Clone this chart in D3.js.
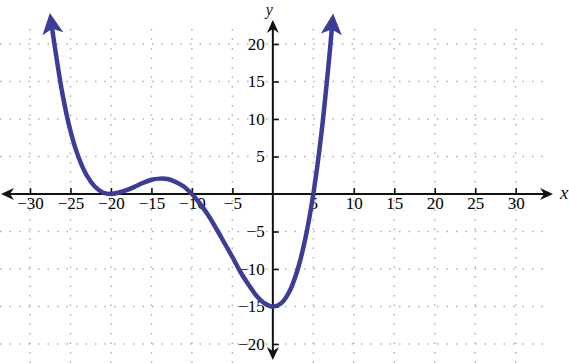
<!DOCTYPE html>
<html>
<head>
<meta charset="utf-8">
<script src="https://cdn.jsdelivr.net/npm/d3@7/dist/d3.min.js"></script>
<style>
  body { margin: 0; background: #fff; }
  svg { display: block; }
</style>
</head>
<body>
<svg width="569" height="363"></svg>
<script>
// values
var xTicks = [-30, -25, -20, -15, -10, -5, 5, 10, 15, 20, 25, 30];
var yTicks = [-20, -15, -10, -5, 5, 10, 15, 20];
var curveX = [-27.3, -26, -25, -24, -23, -22, -21, -20, -19, -18, -17, -16, -15, -14, -13, -12, -11, -10,
              -9, -8, -7, -6, -5, -4, -3, -2, -1, 0, 1, 2, 3, 4, 5, 6, 7, 7.3];
var curveY = [22.3, 13.4, 8.4, 4.9, 2.5, 1.0, 0.2, 0, 0.2, 0.55, 1.0, 1.5, 1.9, 2.05, 2.0, 1.6, 1.0, 0,
              -1.3, -2.8, -4.6, -6.5, -8.4, -10.4, -12.1, -13.6, -14.6, -15, -14.6, -13.1, -10.3, -6.0, 0, 8.1, 18.6, 22.2];

var serif = '"Liberation Serif", serif';
var svg = d3.select('svg');

var x = d3.scaleLinear().domain([-30, 30]).range([30, 515.7]);
var y = d3.scaleLinear().domain([-20, 20]).range([344, 44]);

var fmt = function(d) { return d < 0 ? '\u2212' + Math.abs(d) : '' + d; };

// markers
var defs = svg.append('defs');
defs.append('marker')
    .attr('id', 'curveArrow')
    .attr('markerUnits', 'userSpaceOnUse')
    .attr('orient', 'auto-start-reverse')
    .attr('markerWidth', 40).attr('markerHeight', 40)
    .attr('refX', 0).attr('refY', 0)
    .attr('viewBox', '-20 -20 40 40')
    .append('path')
    .attr('d', 'M14,0 L-7,-10.5 L-2,0 L-7,10.5 Z')
    .attr('fill', '#3d3d99');

defs.append('marker')
    .attr('id', 'axisArrow')
    .attr('markerUnits', 'userSpaceOnUse')
    .attr('orient', 'auto-start-reverse')
    .attr('markerWidth', 30).attr('markerHeight', 30)
    .attr('refX', 0).attr('refY', 0)
    .attr('viewBox', '-15 -15 30 30')
    .append('path')
    .attr('d', 'M2,0 L-11,-6 L-7,0 L-11,6 Z')
    .attr('fill', '#111');

// dotted grid
var grid = svg.append('g').attr('class', 'grid')
    .attr('stroke', '#b0b0b0')
    .attr('stroke-width', 1.5)
    .attr('stroke-dasharray', '1.5,8');

grid.selectAll('.v')
    .data(xTicks)
    .enter()
    .append('line')
    .attr('x1', d => x(d)).attr('x2', d => x(d))
    .attr('y1', y(22)).attr('y2', 363);

grid.selectAll('.h')
    .data(yTicks)
    .enter()
    .append('line')
    .attr('y1', d => y(d)).attr('y2', d => y(d))
    .attr('x1', 0).attr('x2', 543);

// axes
var xAxis = d3.axisBottom(x)
    .tickValues(xTicks)
    .tickFormat(fmt)
    .tickSizeInner(-6)
    .tickSizeOuter(0)
    .tickPadding(3);

var yAxis = d3.axisLeft(y)
    .tickValues(yTicks)
    .tickFormat(fmt)
    .tickSizeInner(-6)
    .tickSizeOuter(0)
    .tickPadding(8);

function styleAxis(g) {
    g.select('.domain').remove();
    g.attr('font-family', null).attr('font-size', null);
    g.selectAll('.tick line').attr('stroke', '#111').attr('stroke-width', 1.6);
    g.selectAll('.tick text')
        .style('font-family', serif)
        .style('font-size', '17px')
        .attr('fill', '#000');
}

svg.append('g')
    .attr('transform', 'translate(0,' + y(0) + ')')
    .call(xAxis)
    .call(styleAxis);

svg.append('g')
    .attr('transform', 'translate(' + x(0) + ',0)')
    .call(yAxis)
    .call(styleAxis);

svg.append('line')
    .attr('x1', 3).attr('x2', 551)
    .attr('y1', y(0)).attr('y2', y(0))
    .attr('stroke', '#111').attr('stroke-width', 2)
    .attr('marker-start', 'url(#axisArrow)')
    .attr('marker-end', 'url(#axisArrow)');

svg.append('line')
    .attr('x1', x(0)).attr('x2', x(0))
    .attr('y1', 22).attr('y2', 358)
    .attr('stroke', '#111').attr('stroke-width', 2)
    .attr('marker-start', 'url(#axisArrow)')
    .attr('marker-end', 'url(#axisArrow)');

svg.append('text')
    .attr('x', 560).attr('y', y(0) + 5)
    .style('font-family', serif).style('font-style', 'italic').style('font-size', '19px')
    .attr('fill', '#111')
    .text('x');
svg.append('text')
    .attr('x', x(0) - 7).attr('y', 15)
    .style('font-family', serif).style('font-style', 'italic').style('font-size', '16px')
    .attr('fill', '#111')
    .text('y');

// curve
var pts = curveX.map((d, i) => [d, curveY[i]]);
var line = d3.line()
    .x(d => x(d[0]))
    .y(d => y(d[1]))
    .curve(d3.curveCatmullRom);

svg.append('path')
    .attr('d', line(pts))
    .attr('fill', 'none')
    .attr('stroke', '#3d3d99')
    .attr('stroke-width', 4.5)
    .attr('marker-start', 'url(#curveArrow)')
    .attr('marker-end', 'url(#curveArrow)');
</script>
</body>
</html>
